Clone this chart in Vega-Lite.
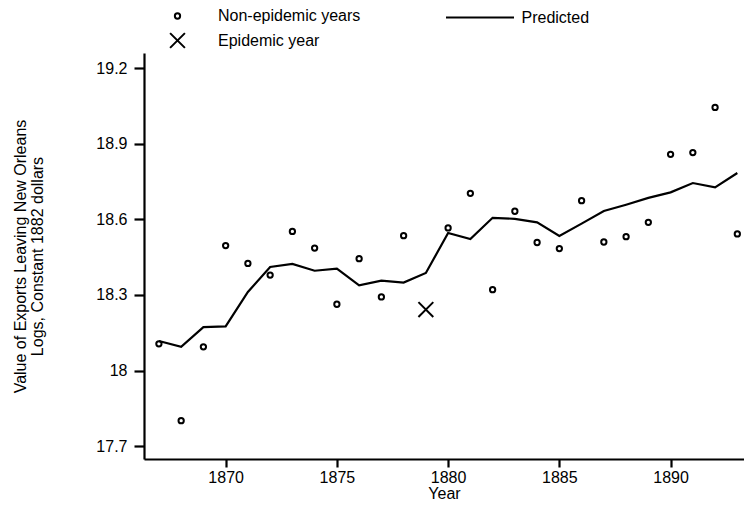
{
  "$schema": "https://vega.github.io/schema/vega-lite/v6.json",
  "width": 600,
  "height": 406,
  "autosize": {"type": "none"},
  "padding": {"left": 144, "top": 53, "right": 0, "bottom": 49},
  "background": "white",
  "config": {
    "view": {"stroke": null},
    "font": "Liberation Sans",
    "axis": {
      "grid": false,
      "domainColor": "black",
      "domainWidth": 2.2,
      "tickColor": "black",
      "tickWidth": 2.2,
      "labelColor": "black",
      "labelFont": "Liberation Sans",
      "labelFontSize": 16,
      "titleFont": "Liberation Sans",
      "titleFontSize": 16,
      "titleFontWeight": "normal",
      "titleColor": "black"
    },
    "legend": {
      "labelFont": "Liberation Sans",
      "labelFontSize": 16,
      "labelColor": "black",
      "title": null
    }
  },
  "data": {
    "values": [
      {"year": 1867, "value": 18.106, "predicted": 18.117, "type": "Non-epidemic years"},
      {"year": 1868, "value": 17.801, "predicted": 18.094, "type": "Non-epidemic years"},
      {"year": 1869, "value": 18.094, "predicted": 18.172, "type": "Non-epidemic years"},
      {"year": 1870, "value": 18.496, "predicted": 18.175, "type": "Non-epidemic years"},
      {"year": 1871, "value": 18.425, "predicted": 18.312, "type": "Non-epidemic years"},
      {"year": 1872, "value": 18.379, "predicted": 18.411, "type": "Non-epidemic years"},
      {"year": 1873, "value": 18.552, "predicted": 18.423, "type": "Non-epidemic years"},
      {"year": 1874, "value": 18.486, "predicted": 18.396, "type": "Non-epidemic years"},
      {"year": 1875, "value": 18.263, "predicted": 18.404, "type": "Non-epidemic years"},
      {"year": 1876, "value": 18.444, "predicted": 18.338, "type": "Non-epidemic years"},
      {"year": 1877, "value": 18.292, "predicted": 18.357, "type": "Non-epidemic years"},
      {"year": 1878, "value": 18.535, "predicted": 18.349, "type": "Non-epidemic years"},
      {"year": 1879, "value": 18.242, "predicted": 18.387, "type": "Epidemic year"},
      {"year": 1880, "value": 18.566, "predicted": 18.546, "type": "Non-epidemic years"},
      {"year": 1881, "value": 18.703, "predicted": 18.522, "type": "Non-epidemic years"},
      {"year": 1882, "value": 18.321, "predicted": 18.606, "type": "Non-epidemic years"},
      {"year": 1883, "value": 18.632, "predicted": 18.602, "type": "Non-epidemic years"},
      {"year": 1884, "value": 18.508, "predicted": 18.588, "type": "Non-epidemic years"},
      {"year": 1885, "value": 18.484, "predicted": 18.534, "type": "Non-epidemic years"},
      {"year": 1886, "value": 18.674, "predicted": 18.583, "type": "Non-epidemic years"},
      {"year": 1887, "value": 18.510, "predicted": 18.633, "type": "Non-epidemic years"},
      {"year": 1888, "value": 18.531, "predicted": 18.658, "type": "Non-epidemic years"},
      {"year": 1889, "value": 18.588, "predicted": 18.685, "type": "Non-epidemic years"},
      {"year": 1890, "value": 18.858, "predicted": 18.707, "type": "Non-epidemic years"},
      {"year": 1891, "value": 18.865, "predicted": 18.744, "type": "Non-epidemic years"},
      {"year": 1892, "value": 19.044, "predicted": 18.727, "type": "Non-epidemic years"},
      {"year": 1893, "value": 18.542, "predicted": 18.784, "type": "Non-epidemic years"}
    ]
  },
  "layer": [
    {
      "mark": {"type": "line", "strokeWidth": 2.2},
      "encoding": {
        "x": {
          "field": "year", "type": "quantitative",
          "scale": {"domain": [1866.33, 1893.3], "nice": false, "zero": false},
          "axis": {"values": [1870, 1875, 1880, 1885, 1890], "format": "d", "title": "Year", "tickSize": 8, "labelPadding": 2, "titlePadding": 0}
        },
        "y": {
          "field": "predicted", "type": "quantitative",
          "scale": {"domain": [17.649, 19.26], "nice": false, "zero": false},
          "axis": {"values": [17.7, 18, 18.3, 18.6, 18.9, 19.2], "format": "~g", "title": ["Value of Exports Leaving New Orleans", "Logs, Constant 1882 dollars"], "tickSize": 10, "labelPadding": 7, "titlePadding": 50, "titleLineHeight": 17}
        },
        "stroke": {
          "datum": "Predicted",
          "scale": {"range": ["black"]},
          "legend": {"orient": "none", "legendX": 300.5, "legendY": -71, "symbolType": "stroke", "symbolSize": 4624, "symbolStrokeWidth": 2.2, "labelOffset": 6}
        }
      }
    },
    {
      "mark": {"type": "point", "filled": false, "color": "black", "strokeWidth": 2, "opacity": 1},
      "encoding": {
        "x": {"field": "year", "type": "quantitative"},
        "y": {"field": "value", "type": "quantitative"},
        "shape": {
          "field": "type", "type": "ordinal",
          "scale": {"domain": ["Non-epidemic years", "Epidemic year"], "range": ["circle", "M-1,-1L1,1M-1,1L1,-1"]},
          "legend": {"orient": "none", "legendX": 25, "legendY": -45, "labelOffset": 32, "rowPadding": 5, "symbolStrokeColor": "black", "symbolFillColor": "transparent", "symbolStrokeWidth": 2, "symbolOpacity": 1}
        },
        "size": {
          "field": "type", "type": "ordinal",
          "scale": {"domain": ["Non-epidemic years", "Epidemic year"], "range": [28, 220]}
        }
      }
    }
  ]
}
